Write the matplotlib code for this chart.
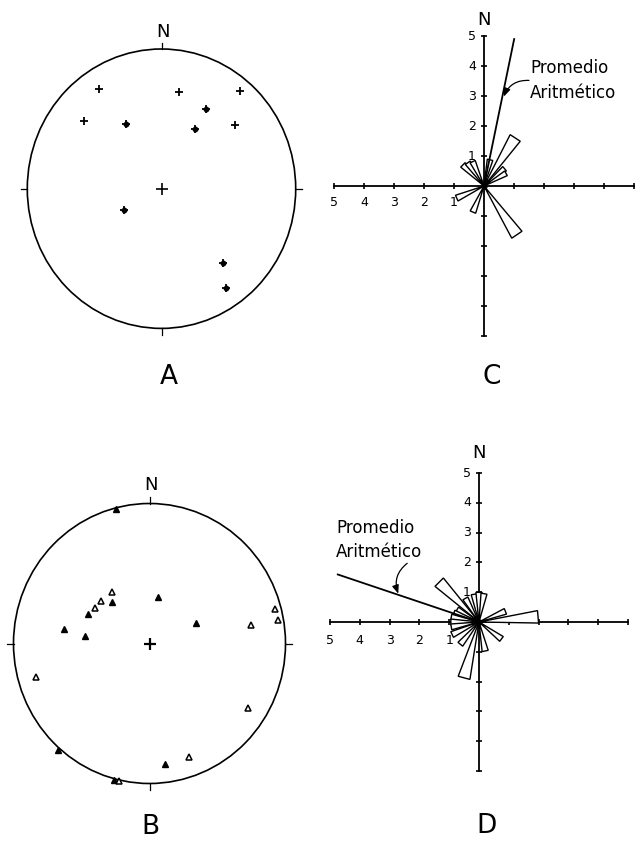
import numpy as np
import matplotlib
matplotlib.use('Agg')
import matplotlib.pyplot as plt
from matplotlib.patches import Circle, Polygon

W, H = 636, 846

# Stereonet A: poles (x = east, y = north, unit circle)
a_cross_x = [-0.466, 0.133, 0.587, -0.577, 0.550]
a_cross_y = [0.713, 0.694, 0.702, 0.482, 0.456]
a_dot_x = [0.332, -0.265, 0.250, -0.277, 0.461, 0.478]
a_dot_y = [0.571, 0.466, 0.425, -0.155, -0.534, -0.709]

# Stereonet B: filled and open triangles
b_fill_x = [-0.244, -0.274, -0.450, -0.628, -0.472, 0.064, 0.340, 0.116, -0.671, -0.261]
b_fill_y = [0.961, 0.295, 0.209, 0.104, 0.056, 0.334, 0.149, -0.860, -0.761, -0.975]
b_open_x = [-0.274, -0.358, -0.401, 0.744, 0.925, 0.942, -0.837, 0.722, 0.293, -0.224]
b_open_y = [0.366, 0.306, 0.251, 0.135, 0.246, 0.165, -0.239, -0.463, -0.812, -0.984]

# Rose C: petal azimuths (deg) and lengths
c_az = [13, 33, 50, 60, 315, 325, 335, 246, 203, 146]
c_len = [0.9, 1.92, 0.9, 0.85, 1.0, 0.95, 0.9, 1.0, 0.95, 1.97]
c_mean = (11.6, 5.0)

# Rose D
d_az = [350, 0, 10, 315, 330, 300, 290, 280, 270, 260, 245, 220, 195, 168, 127, 68, 85]
d_len = [0.95, 1.0, 0.97, 1.9, 0.92, 0.85, 0.9, 0.95, 0.95, 0.95, 1.0, 0.98, 1.95, 1.0, 0.95, 0.96, 2.0]
d_mean = (288.6, 5.0)

tick_vals = [1, 2, 3, 4, 5]

fig = plt.figure(figsize=(6.36, 8.46), dpi=100)


def panel(cx, cy, sx, sy, xlim, ylim):
    # cx, cy: pixel of data origin from top-left; sx, sy: pixels per unit
    left = cx + xlim[0] * sx
    top = cy - ylim[1] * sy
    w = (xlim[1] - xlim[0]) * sx
    h = (ylim[1] - ylim[0]) * sy
    ax = fig.add_axes([left / W, 1 - (top + h) / H, w / W, h / H])
    ax.set_xlim(xlim)
    ax.set_ylim(ylim)
    ax.axis('off')
    return ax


def stereonet(ax, nlab_y):
    ax.add_patch(Circle((0, 0), 1, fill=False, lw=1.2, ec='black'))
    for ang in [0, 90, 180, 270]:
        t = np.radians(ang)
        ax.plot([np.sin(t), 1.045 * np.sin(t)], [np.cos(t), 1.045 * np.cos(t)],
                color='black', lw=0.9)
    ax.text(0.01, nlab_y, 'N', ha='center', va='center', fontsize=13)


def rose(ax, az, ln, mean, label_off):
    ax.plot([-5, 5], [0, 0], color='black', lw=1.3)
    ax.plot([0, 0], [-5, 5], color='black', lw=1.3)
    ticks = [-5, -4, -3, -2, -1, 1, 2, 3, 4, 5]
    ax.plot(ticks, [0] * len(ticks), ls='none', marker='|', ms=5, mew=1.2, color='black')
    ax.plot([0] * len(ticks), ticks, ls='none', marker='_', ms=5, mew=1.2, color='black')
    for v in tick_vals:
        ax.annotate(str(v), (-v, 0), xytext=(0, -label_off), textcoords='offset pixels',
                    ha='center', va='center', fontsize=9)
        ax.annotate(str(v), (0, v), xytext=(-12, 0), textcoords='offset pixels',
                    ha='center', va='center', fontsize=9)
    half = 6
    for a, l in zip(az, ln):
        t1 = np.radians(a - half)
        t2 = np.radians(a + half)
        pts = [(0, 0), (l * np.sin(t1), l * np.cos(t1)), (l * np.sin(t2), l * np.cos(t2))]
        ax.add_patch(Polygon(pts, closed=True, fc='white', ec='black', lw=1.0, zorder=3))
    m = np.radians(mean[0])
    ax.plot([0, mean[1] * np.sin(m)], [0, mean[1] * np.cos(m)], color='black', lw=1.3, zorder=4)
    ax.plot(0, 0, 'ko', ms=3.5, zorder=5)


# Panel A
axA = panel(161.5, 188.7, 134.2, 139.7, (-1.2, 1.2), (-1.5, 1.25))
stereonet(axA, 1.124)
axA.plot(a_cross_x, a_cross_y, ls='none', marker='+', ms=5.5, mew=1.3, color='black')
axA.plot(a_dot_x, a_dot_y, ls='none', marker='+', ms=5.5, mew=1.3, color='black')
axA.plot(a_dot_x, a_dot_y, ls='none', marker='o', ms=3.2, color='black')
axA.plot(0, 0, marker='+', ms=8, mew=1.2, color='black')
axA.text(0.056, -1.348, 'A', ha='center', va='center', fontsize=19)

# Panel B
axB = panel(149.5, 643.5, 136.0, 140.0, (-1.2, 1.2), (-1.5, 1.25))
stereonet(axB, 1.132)
axB.plot(b_fill_x, b_fill_y, ls='none', marker='^', ms=4.5, color='black')
axB.plot(b_open_x, b_open_y, ls='none', marker='^', ms=4.5, mfc='white', mec='black', mew=1.1)
axB.plot(0, 0, marker='+', ms=8, mew=1.6, color='black')
axB.text(0.004, -1.31, 'B', ha='center', va='center', fontsize=19)

# Panel C
axC = panel(484, 186, 30.0, 30.0, (-5.3, 5.3), (-7.0, 6.0))
rose(axC, c_az, c_len, c_mean, 16)
axC.text(0.0, 5.53, 'N', ha='center', va='center', fontsize=13)
axC.text(1.53, 3.93, 'Promedio', ha='left', va='center', fontsize=12)
axC.text(1.53, 3.1, 'Aritmético', ha='left', va='center', fontsize=12)
axC.annotate('', xy=(0.66, 2.98), xytext=(1.50, 3.52),
             arrowprops=dict(arrowstyle='-|>,head_length=0.5,head_width=0.2',
                             connectionstyle='arc3,rad=0.35', lw=0.9, color='black',
                             shrinkA=0, shrinkB=0))
axC.text(0.26, -6.35, 'C', ha='center', va='center', fontsize=19)

# Panel D
axD = panel(479, 622, 29.8, 29.8, (-5.3, 5.3), (-7.4, 6.0))
rose(axD, d_az, d_len, d_mean, 18)
axD.text(0.0, 5.67, 'N', ha='center', va='center', fontsize=13)
axD.text(-4.80, 3.14, 'Promedio', ha='left', va='center', fontsize=12)
axD.text(-4.80, 2.36, 'Aritmético', ha='left', va='center', fontsize=12)
axD.annotate('', xy=(-2.71, 0.95), xytext=(-2.41, 1.97),
             arrowprops=dict(arrowstyle='-|>,head_length=0.5,head_width=0.2',
                             connectionstyle='arc3,rad=0.35', lw=0.9, color='black',
                             shrinkA=0, shrinkB=0))
axD.text(0.26, -6.85, 'D', ha='center', va='center', fontsize=19)

fig.savefig('out.png', dpi=100)
